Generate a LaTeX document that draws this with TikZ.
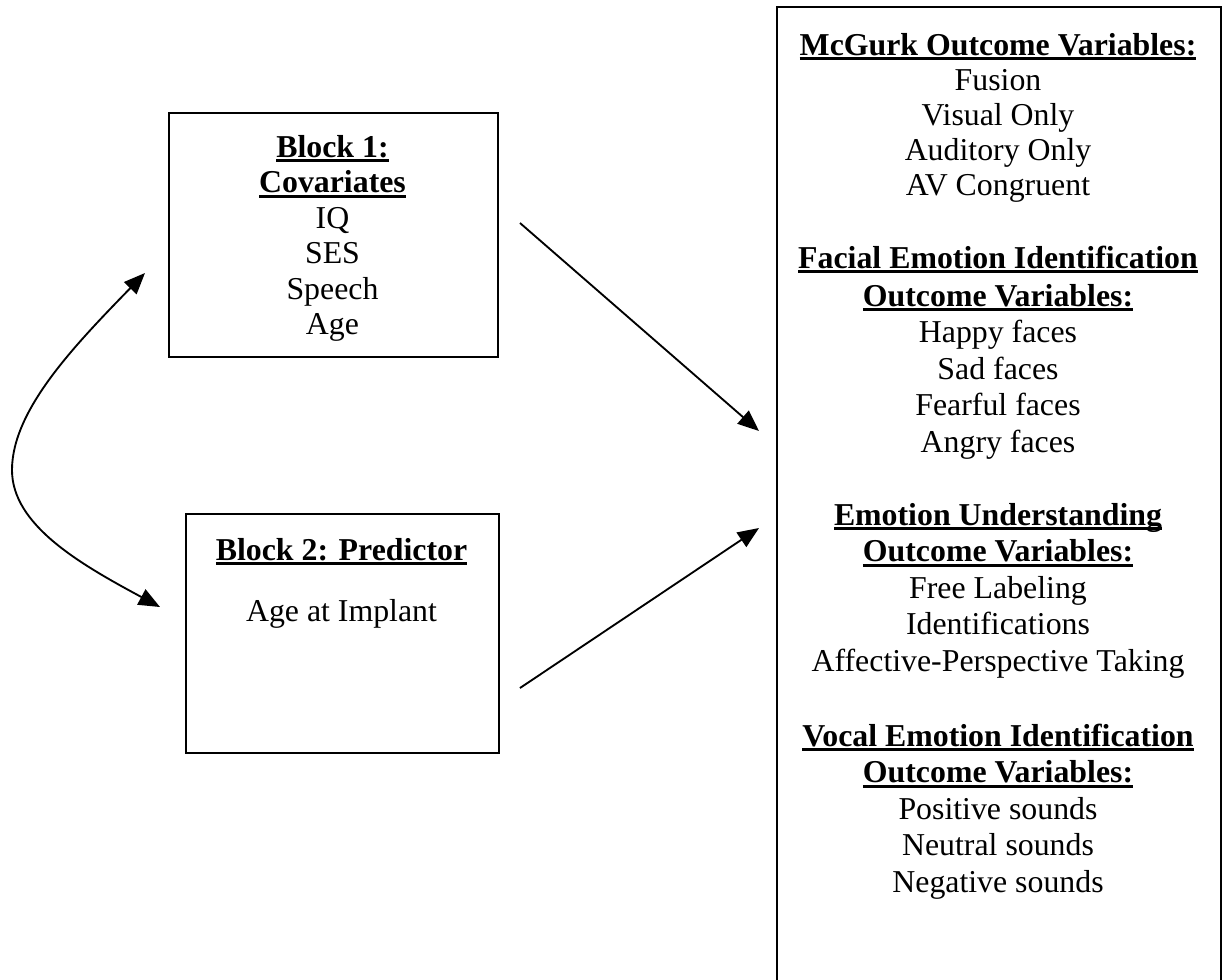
\documentclass[tikz,border=0pt]{standalone}
\usepackage{fontspec}
\setmainfont{Liberation Serif}
\usetikzlibrary{arrows.meta}
\newcommand\hd[1]{\sbox0{\bfseries #1}\rlap{\usebox0}\rule[-1.9pt]{\wd0}{1.1pt}}
\begin{document}
\begin{tikzpicture}[x=0.37707pt, y=-0.37707pt,
  box/.style={draw, line width=0.9pt, inner sep=0pt, anchor=north west},
  txt/.style={anchor=base, inner sep=0pt, font=\fontsize{12}{13.8}\selectfont},
  conn/.style={line width=0.7pt, -{Triangle[length=8pt,width=6.5pt]}},
  dconn/.style={line width=0.7pt, {Triangle[length=8pt,width=6.5pt]}-{Triangle[length=8pt,width=6.5pt]}}]
\clip (0,0) rectangle (1225,979);
\fill[white] (0,0) rectangle (1225,979);
% boxes
\node[box, minimum width=124.06pt, minimum height=92.01pt] (b1) at (168,112) {};
\node[box, minimum width=118.02pt, minimum height=90.12pt] (b2) at (185,513) {};
\node[box, minimum width=167.42pt, minimum height=374.8pt] (out) at (776,6) {};
% block 1 text
\node[txt] (b1t1) at (332.5,157) {\hd{Block 1:}};
\node[txt] (b1t2) at (332.5,192.5) {\hd{Covariates}};
\node[txt] (b1t3) at (332.5,228) {IQ};
\node[txt] (b1t4) at (332.5,263.5) {SES};
\node[txt] (b1t5) at (332.5,299) {Speech};
\node[txt] (b1t6) at (332.5,334.5) {Age};
% block 2 text
\node[txt] (b2t1) at (341.5,560) {\hd{Block 2: Predictor}};
\node[txt] (b2t2) at (341.5,621) {Age at Implant};
% outcome text
\node[txt] (o1) at (998,55) {\hd{McGurk Outcome Variables:}};
\node[txt] (o2) at (998,90) {Fusion};
\node[txt] (o3) at (998,125) {Visual Only};
\node[txt] (o4) at (998,160) {Auditory Only};
\node[txt] (o5) at (998,195) {AV Congruent};
\node[txt] (o6) at (998,268) {\hd{Facial Emotion Identification}};
\node[txt] (o7) at (998,306) {\hd{Outcome Variables:}};
\node[txt] (o8) at (998,342.5) {Happy faces};
\node[txt] (o9) at (998,379) {Sad faces};
\node[txt] (o10) at (998,415.5) {Fearful faces};
\node[txt] (o11) at (998,452) {Angry faces};
\node[txt] (o12) at (998,525) {\hd{Emotion Understanding}};
\node[txt] (o13) at (998,561.5) {\hd{Outcome Variables:}};
\node[txt] (o14) at (998,598) {Free Labeling};
\node[txt] (o15) at (998,634.5) {Identifications};
\node[txt] (o16) at (998,671) {Affective-Perspective Taking};
\node[txt] (o17) at (998,746) {\hd{Vocal Emotion Identification}};
\node[txt] (o18) at (998,782.5) {\hd{Outcome Variables:}};
\node[txt] (o19) at (998,819) {Positive sounds};
\node[txt] (o20) at (998,855.5) {Neutral sounds};
\node[txt] (o21) at (998,892) {Negative sounds};
% connector ends
\coordinate (a1s) at (520,223);
\coordinate (a1e) at (759,431);
\coordinate (a2s) at (520,688);
\coordinate (a2e) at (759,528);
\coordinate (ctop) at (145,273);
\coordinate (cmid) at (12,470);
\coordinate (cbot) at (160,607);
\draw[conn] (a1s) -- (a1e);
\draw[conn] (a2s) -- (a2e);
\draw[dconn] (ctop) .. controls (75,345) and (12,410) .. (cmid) .. controls (12,525) and (80,564) .. (cbot);
\end{tikzpicture}
\end{document}
